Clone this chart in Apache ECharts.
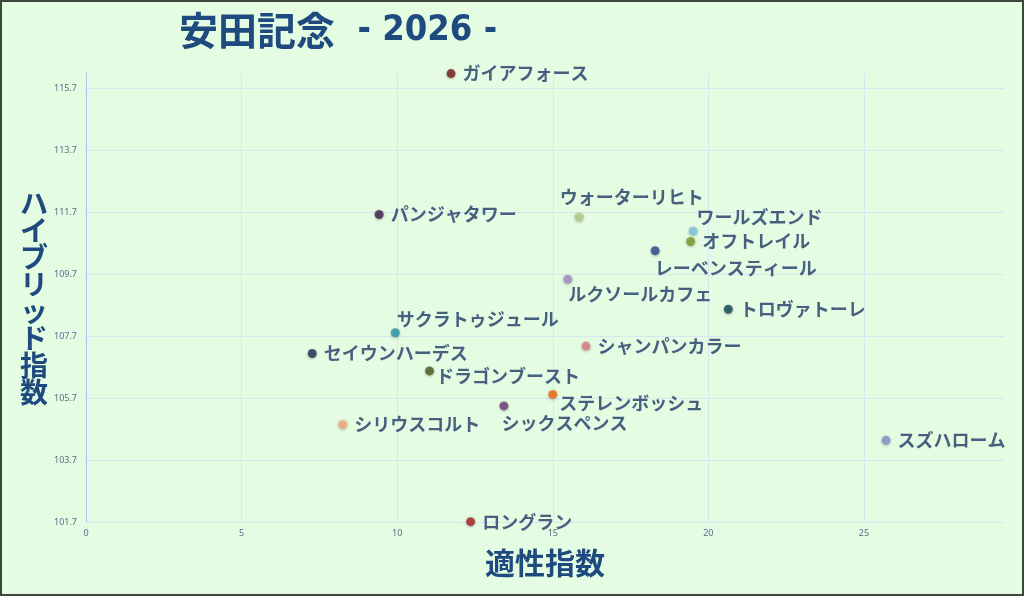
<!DOCTYPE html>
<html>
<head>
<meta charset="utf-8">
<style>
html,body{margin:0;padding:0;background:#e4fce2;}
#chart{width:1024px;height:596px;}
</style>
<script src="https://cdn.jsdelivr.net/npm/echarts@6/dist/echarts.min.js"></script>
</head>
<body>
<div id="chart"></div>
<script>
const names = ['ガイアフォース','パンジャタワー','ウォーターリヒト','ワールズエンド','オフトレイル','レーベンスティール','ルクソールカフェ','トロヴァトーレ','シャンパンカラー','サクラトゥジュール','セイウンハーデス','ドラゴンブースト','ステレンボッシュ','シックスペンス','シリウスコルト','スズハローム','ロングラン'];
const aptitude = [11.73, 9.42, 15.85, 19.51, 19.43, 18.29, 15.48, 20.64, 16.07, 9.94, 7.27, 11.04, 15.00, 13.43, 8.25, 25.71, 12.36];
const hybrid = [116.18, 111.63, 111.55, 111.10, 110.76, 110.46, 109.54, 108.57, 107.38, 107.81, 107.14, 106.58, 105.82, 105.45, 104.85, 104.34, 101.71];
const yTicks = ['101.7','103.7','105.7','107.7','109.7','111.7','113.7','115.7'];
const xTicks = ['0','5','10','15','20','25'];

const colors = ['#7a1a1a','#3d1f4a','#b5c98a','#80c6e2','#7a9a2a','#2a4a8c','#a48cc4','#0f4a55','#e07a7a','#2a92aa','#1a2f55','#4a5a1a','#f06a10','#6a3a7a','#f4a878','#8294cc','#a82020'];
// label placements (offset from symbol box top-left) for the non-right labels
const labelPlace = {
  'ウォーターリヒト': [-15, -15],
  'ワールズエンド': [8, -9],
  'レーベンスティール': [4, 22],
  'ルクソールカフェ': [5, 19],
  'サクラトゥジュール': [6, -9],
  'シックスペンス': [2, 22],
  'ステレンボッシュ': [11, 13],
  'ドラゴンブースト': [11, 10]
};

const data = names.map((n, i) => {
  const item = {
    name: n,
    value: [aptitude[i], hybrid[i]],
    itemStyle: { color: colors[i] }
  };
  if (labelPlace[n]) {
    item.label = { position: labelPlace[n], align: 'left', verticalAlign: 'middle' };
  }
  return item;
});

const chart = echarts.init(document.getElementById('chart'));
chart.setOption({
  backgroundColor: '#e4fce2',
  animation: false,
  title: {
    text: '{a|安田記念}{b|  - 2026 -}',
    left: 174, top: 6,
    textStyle: {
      rich: {
        a: { fontFamily: 'Noto Sans CJK JP', fontSize: 39, fontWeight: 'bold', color: '#1f4a80' },
        b: { fontFamily: 'DejaVu Sans Condensed', fontSize: 36, fontWeight: 'bold', color: '#1f4a80' }
      }
    }
  },
  grid: { left: 86, right: 20, top: 73, bottom: 74 },
  xAxis: {
    type: 'value', min: 0, max: 29.5, interval: 5,
    name: '適性指数', nameLocation: 'middle', nameGap: 26,
    nameTextStyle: { fontFamily: 'Noto Sans CJK JP', fontSize: 30, fontWeight: 'bold', color: '#1f4a80' },
    axisLine: { show: true, lineStyle: { color: '#d8e6f4' } },
    axisTick: { show: false },
    axisLabel: { showMaxLabel: false, fontSize: 9, color: '#5b6b8c', margin: 7, fontFamily: 'Noto Sans',
      formatter: v => xTicks.indexOf(String(v)) >= 0 ? String(v) : '' },
    splitLine: { show: true, showMaxLine: false, lineStyle: { color: '#d8e6f4' } }
  },
  yAxis: {
    type: 'value', min: 101.7, max: 116.2, interval: 2,
    name: 'ハイブリッド指数'.split('').join('\n'), nameLocation: 'middle', nameRotate: 0, nameGap: 40,
    nameTextStyle: { fontFamily: 'Noto Sans CJK JP', fontSize: 28, fontWeight: 'bold', color: '#1f4a80', lineHeight: 27, align: 'center' },
    axisLine: { show: true, lineStyle: { color: '#a9c6ee' } },
    axisTick: { show: false },
    axisLabel: { showMaxLabel: false, fontSize: 9, color: '#5b6b8c', margin: 9, fontFamily: 'Noto Sans',
      formatter: v => { const s = v.toFixed(1); return yTicks.indexOf(s) >= 0 ? s : ''; } },
    splitLine: { show: true, showMaxLine: false, lineStyle: { color: '#d8e6f4' } }
  },
  graphic: [{
    type: 'rect', silent: true, z: 100,
    shape: { x: 1, y: 1, width: 1022, height: 594 },
    style: { fill: 'none', stroke: '#3c463c', lineWidth: 2 }
  }],
  series: [{
    type: 'scatter',
    symbolSize: 9,
    data: data,
    itemStyle: { shadowBlur: 3, shadowColor: 'rgba(0,0,0,0.3)', shadowOffsetY: 1 },
    label: {
      show: true, position: 'right', distance: 7,
      formatter: p => p.name,
      fontFamily: 'Noto Sans CJK JP', fontSize: 18, fontWeight: 'bold', color: '#1e3a68'
    }
  }]
});
</script>
</body>
</html>
